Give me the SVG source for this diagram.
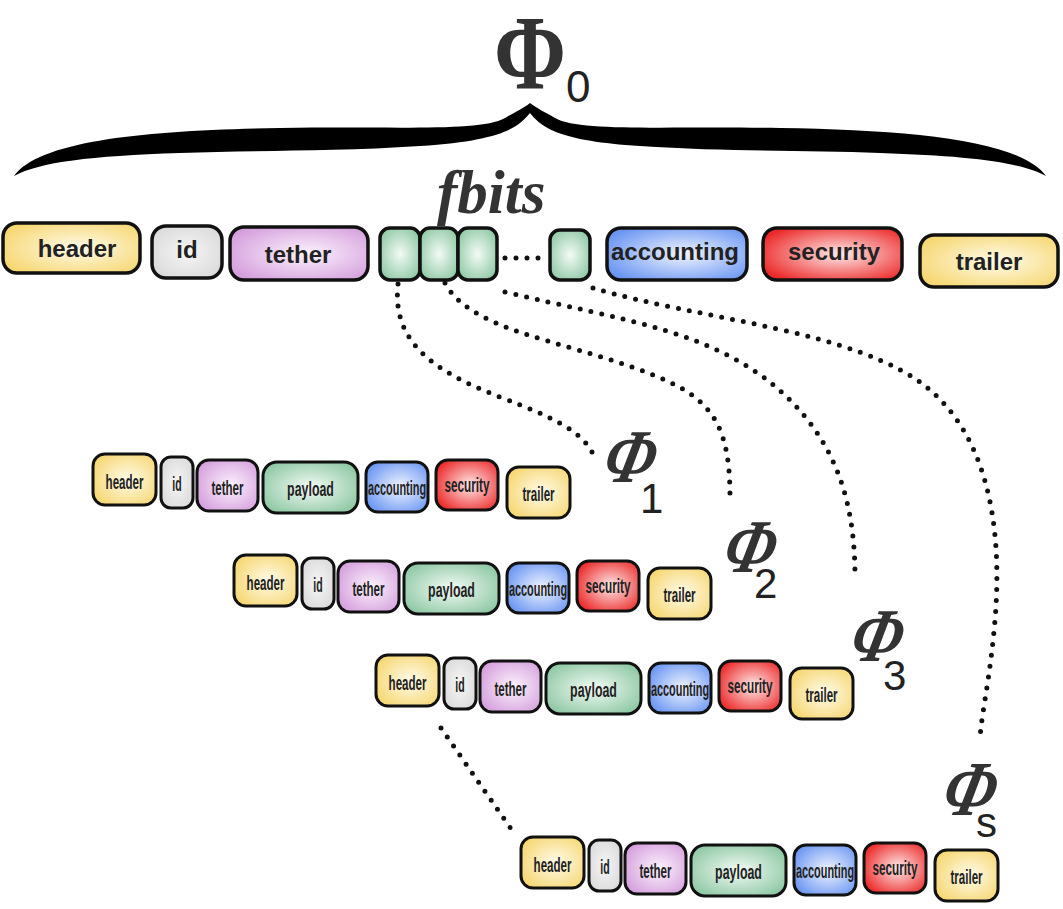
<svg xmlns="http://www.w3.org/2000/svg" width="1063" height="909" viewBox="0 0 1063 909">
  <defs>
    <radialGradient id="g-yellow" cx="0.55" cy="0.5" r="0.62">
      <stop offset="0" stop-color="#fffbea"/>
      <stop offset="1" stop-color="#f6d772"/>
    </radialGradient>
    <radialGradient id="g-gray" cx="0.5" cy="0.5" r="0.62">
      <stop offset="0" stop-color="#f6f6f6"/>
      <stop offset="1" stop-color="#d9d9d9"/>
    </radialGradient>
    <radialGradient id="g-purple" cx="0.55" cy="0.5" r="0.62">
      <stop offset="0" stop-color="#fcf3fd"/>
      <stop offset="1" stop-color="#d59fdd"/>
    </radialGradient>
    <radialGradient id="g-green" cx="0.5" cy="0.5" r="0.62">
      <stop offset="0" stop-color="#f3fbf6"/>
      <stop offset="1" stop-color="#8bc6a1"/>
    </radialGradient>
    <radialGradient id="g-blue" cx="0.55" cy="0.5" r="0.62">
      <stop offset="0" stop-color="#f1f5ff"/>
      <stop offset="1" stop-color="#6b96f2"/>
    </radialGradient>
    <radialGradient id="g-red" cx="0.55" cy="0.5" r="0.62">
      <stop offset="0" stop-color="#ffeaea"/>
      <stop offset="1" stop-color="#ec2a2a"/>
    </radialGradient>
    <style>
      .box { stroke: #111; stroke-width: 3.5; }
      .sbox { stroke: #111; stroke-width: 3; }
      .yellow { fill: url(#g-yellow); }
      .gray { fill: url(#g-gray); }
      .purple { fill: url(#g-purple); }
      .green { fill: url(#g-green); }
      .blue { fill: url(#g-blue); }
      .red { fill: url(#g-red); }
      .lbl { font-family: "Liberation Sans", Arial, sans-serif; font-weight: bold; font-size: 24px; fill: #222; text-anchor: middle; }
      .slbl { font-family: "Liberation Sans", Arial, sans-serif; font-weight: bold; font-size: 21px; fill: #222; text-anchor: middle; }
      .phi { font-family: "Liberation Serif", "Times New Roman", serif; font-weight: bold; font-style: italic; fill: #333; }
      .sub { font-family: "Liberation Sans", Arial, sans-serif; fill: #222; }
      .dots { fill: none; stroke: #111; stroke-width: 5; stroke-linecap: round; stroke-dasharray: 0 11; }
    </style>
  </defs>

  <rect width="1063" height="909" fill="#ffffff"/>

  <!-- Phi_0 over the brace -->
  <g id="phi0">
    <text transform="translate(530,88) scale(0.82,1)" font-family="Liberation Serif, 'Times New Roman', serif" font-weight="bold" font-size="106" fill="#333" text-anchor="middle">Φ</text>
    <text class="sub" x="566" y="102" font-size="44">0</text>
  </g>

  <!-- curly brace spanning the full frame -->
  <path id="brace" fill="#000" d="M 14,176 C 40,140 150,130 280,128 C 400,126 480,132 505,118 C 515,112 524,108 530,103 C 536,108 545,112 555,118 C 580,132 660,126 780,128 C 910,130 1020,140 1046,176 C 1020,162 970,156 880,153 C 810,150 730,152 640,146 C 560,141 542,128 530,113 C 518,128 500,141 420,146 C 330,152 250,150 180,153 C 90,156 40,162 14,176 Z"/>

  <text id="fbits" class="phi" x="437" y="213" font-size="61" fill="#111">fbits</text>

  <!-- connectors -->
  <g id="connectors">
    <path class="dots" d="M 505,258 L 545,258" stroke-dasharray="0 13" stroke-width="4.5"/>
    <path class="dots" d="M 398,284 C 392,340 430,370 500,397 C 550,416 580,430 592,452"/>
    <path class="dots" d="M 445,283 C 470,330 560,340 640,370 C 710,395 730,420 730,498"/>
    <path class="dots" d="M 505,292 C 620,320 720,330 790,400 C 840,450 855,510 855,577"/>
    <path class="dots" d="M 593,288 C 700,320 860,330 930,390 C 1000,450 1000,560 995,620 C 990,680 982,710 980,738"/>
    <path class="dots" d="M 441,728 L 516,836" stroke-width="6" stroke-dasharray="0 19.5"/>
  </g>

  <!-- full frame -->
  <g id="frame">
    <g id="f-header"><rect class="box yellow" x="3" y="223" width="137" height="50" rx="14"/><text class="lbl" x="77" y="257">header</text></g>
    <g id="f-id"><rect class="box gray" x="152" y="226" width="70" height="52" rx="14"/><text class="lbl" x="187" y="258">id</text></g>
    <g id="f-tether"><rect class="box purple" x="230" y="227" width="138" height="53" rx="14"/><text class="lbl" x="298" y="263">tether</text></g>
    <g id="f-bit1"><rect class="box green" x="380" y="228" width="40" height="52" rx="10"/></g>
    <g id="f-bit2"><rect class="box green" x="420" y="228" width="38" height="52" rx="10"/></g>
    <g id="f-bit3"><rect class="box green" x="458" y="228" width="39" height="52" rx="10"/></g>
    <g id="f-bitn"><rect class="box green" x="550" y="230" width="40" height="50" rx="10"/></g>
    <g id="f-accounting"><rect class="box blue" x="607" y="228" width="140" height="52" rx="14"/><text class="lbl" x="675" y="260">accounting</text></g>
    <g id="f-security"><rect class="box red" x="763" y="228" width="139" height="52" rx="14"/><text class="lbl" x="834" y="260">security</text></g>
    <g id="f-trailer"><rect class="box yellow" x="920" y="235" width="138" height="52" rx="14"/><text class="lbl" x="989" y="270">trailer</text></g>
  </g>

  <!-- sub-frames (labels drawn in a narrow, horizontally squeezed face) -->
  <g id="packet1" transform="translate(93,454)">
    <g id="p1-header"><rect class="sbox yellow" x="0" y="0" width="63" height="51" rx="12"/><text class="slbl" transform="translate(31.5,35) scale(0.55,1)">header</text></g>
    <g id="p1-id"><rect class="sbox gray" x="68" y="3" width="32" height="51" rx="10"/><text class="slbl" transform="translate(84,37) scale(0.5,1)">id</text></g>
    <g id="p1-tether"><rect class="sbox purple" x="104" y="6" width="61" height="51" rx="12"/><text class="slbl" transform="translate(134.5,41) scale(0.55,1)">tether</text></g>
    <g id="p1-payload"><rect class="sbox green" x="170" y="8" width="95" height="51" rx="14"/><text class="slbl" transform="translate(217.5,42) scale(0.59,1)">payload</text></g>
    <g id="p1-accounting"><rect class="sbox blue" x="273" y="8" width="62" height="50" rx="12"/><text class="slbl" transform="translate(304,41) scale(0.52,1)">accounting</text></g>
    <g id="p1-security"><rect class="sbox red" x="343" y="6" width="62" height="50" rx="12"/><text class="slbl" transform="translate(374,38) scale(0.56,1)">security</text></g>
    <g id="p1-trailer"><rect class="sbox yellow" x="414" y="13" width="63" height="51" rx="12"/><text class="slbl" transform="translate(445.5,47) scale(0.55,1)">trailer</text></g>
  </g>

  <g id="packet2" transform="translate(234,555)">
    <g id="p2-header"><rect class="sbox yellow" x="0" y="0" width="63" height="51" rx="12"/><text class="slbl" transform="translate(31.5,35) scale(0.55,1)">header</text></g>
    <g id="p2-id"><rect class="sbox gray" x="68" y="3" width="32" height="51" rx="10"/><text class="slbl" transform="translate(84,37) scale(0.5,1)">id</text></g>
    <g id="p2-tether"><rect class="sbox purple" x="104" y="6" width="61" height="51" rx="12"/><text class="slbl" transform="translate(134.5,41) scale(0.55,1)">tether</text></g>
    <g id="p2-payload"><rect class="sbox green" x="170" y="8" width="95" height="51" rx="14"/><text class="slbl" transform="translate(217.5,42) scale(0.59,1)">payload</text></g>
    <g id="p2-accounting"><rect class="sbox blue" x="273" y="8" width="62" height="50" rx="12"/><text class="slbl" transform="translate(304,41) scale(0.52,1)">accounting</text></g>
    <g id="p2-security"><rect class="sbox red" x="343" y="6" width="62" height="50" rx="12"/><text class="slbl" transform="translate(374,38) scale(0.56,1)">security</text></g>
    <g id="p2-trailer"><rect class="sbox yellow" x="414" y="13" width="63" height="51" rx="12"/><text class="slbl" transform="translate(445.5,47) scale(0.55,1)">trailer</text></g>
  </g>

  <g id="packet3" transform="translate(376,655)">
    <g id="p3-header"><rect class="sbox yellow" x="0" y="0" width="63" height="51" rx="12"/><text class="slbl" transform="translate(31.5,35) scale(0.55,1)">header</text></g>
    <g id="p3-id"><rect class="sbox gray" x="68" y="3" width="32" height="51" rx="10"/><text class="slbl" transform="translate(84,37) scale(0.5,1)">id</text></g>
    <g id="p3-tether"><rect class="sbox purple" x="104" y="6" width="61" height="51" rx="12"/><text class="slbl" transform="translate(134.5,41) scale(0.55,1)">tether</text></g>
    <g id="p3-payload"><rect class="sbox green" x="170" y="8" width="95" height="51" rx="14"/><text class="slbl" transform="translate(217.5,42) scale(0.59,1)">payload</text></g>
    <g id="p3-accounting"><rect class="sbox blue" x="273" y="8" width="62" height="50" rx="12"/><text class="slbl" transform="translate(304,41) scale(0.52,1)">accounting</text></g>
    <g id="p3-security"><rect class="sbox red" x="343" y="6" width="62" height="50" rx="12"/><text class="slbl" transform="translate(374,38) scale(0.56,1)">security</text></g>
    <g id="p3-trailer"><rect class="sbox yellow" x="414" y="13" width="63" height="51" rx="12"/><text class="slbl" transform="translate(445.5,47) scale(0.55,1)">trailer</text></g>
  </g>

  <g id="packet4" transform="translate(521,837)">
    <g id="p4-header"><rect class="sbox yellow" x="0" y="0" width="63" height="51" rx="12"/><text class="slbl" transform="translate(31.5,35) scale(0.55,1)">header</text></g>
    <g id="p4-id"><rect class="sbox gray" x="68" y="3" width="32" height="51" rx="10"/><text class="slbl" transform="translate(84,37) scale(0.5,1)">id</text></g>
    <g id="p4-tether"><rect class="sbox purple" x="104" y="6" width="61" height="51" rx="12"/><text class="slbl" transform="translate(134.5,41) scale(0.55,1)">tether</text></g>
    <g id="p4-payload"><rect class="sbox green" x="170" y="8" width="95" height="51" rx="14"/><text class="slbl" transform="translate(217.5,42) scale(0.59,1)">payload</text></g>
    <g id="p4-accounting"><rect class="sbox blue" x="273" y="8" width="62" height="50" rx="12"/><text class="slbl" transform="translate(304,41) scale(0.52,1)">accounting</text></g>
    <g id="p4-security"><rect class="sbox red" x="343" y="6" width="62" height="50" rx="12"/><text class="slbl" transform="translate(374,38) scale(0.56,1)">security</text></g>
    <g id="p4-trailer"><rect class="sbox yellow" x="414" y="13" width="63" height="51" rx="12"/><text class="slbl" transform="translate(445.5,47) scale(0.55,1)">trailer</text></g>
  </g>

  <!-- sub-frame labels: slanted Phi with a subscript -->
  <g id="phi1"><text class="phi" transform="translate(600,482) scale(0.84,1) skewX(-16)" font-size="76">Φ</text><text class="sub" x="640" y="513" font-size="42">1</text></g>
  <g id="phi2"><text class="phi" transform="translate(720,572) scale(0.84,1) skewX(-16)" font-size="76">Φ</text><text class="sub" x="754" y="598" font-size="42">2</text></g>
  <g id="phi3"><text class="phi" transform="translate(847,661) scale(0.84,1) skewX(-16)" font-size="76">Φ</text><text class="sub" x="883" y="690" font-size="42">3</text></g>
  <g id="phis"><text class="phi" transform="translate(939,815) scale(0.84,1) skewX(-16)" font-size="78">Φ</text><text class="sub" x="976" y="837" font-size="42">s</text></g>
</svg>
